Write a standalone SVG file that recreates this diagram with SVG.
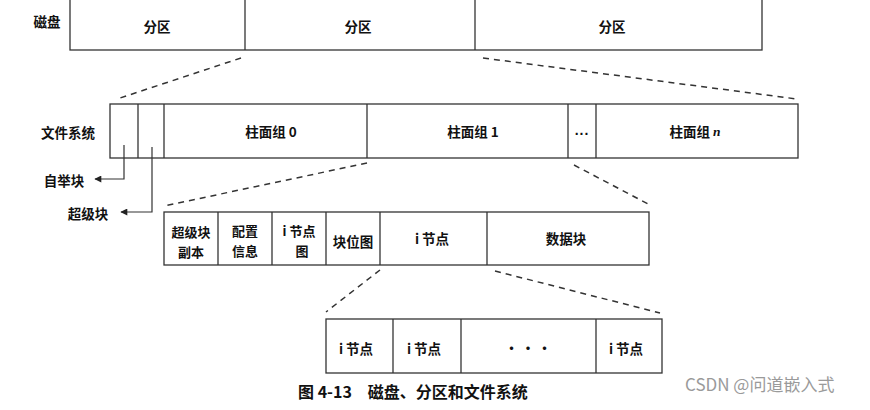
<svg xmlns="http://www.w3.org/2000/svg" width="870" height="410" viewBox="0 0 870 410">
<style>
.box{fill:#fff;stroke:#333;stroke-width:1.3}
.div{stroke:#333;stroke-width:1.3}
.dash{stroke:#333;stroke-width:1.5;stroke-dasharray:6 5;fill:none}
.ln{stroke:#333;stroke-width:1.2;fill:none}
.t{font-family:"Noto Sans CJK SC","Liberation Serif",sans-serif;font-size:13.5px;font-weight:bold;fill:#111;text-anchor:middle;dominant-baseline:central}
.s{font-size:13px}
.dots{font-family:"Liberation Sans",sans-serif;font-size:14px;font-weight:bold;fill:#111;text-anchor:middle}
.cap{font-family:"Noto Sans CJK SC","Liberation Serif",sans-serif;font-size:16px;font-weight:bold;fill:#111}
.wm{font-family:"Noto Sans CJK SC","Liberation Sans",sans-serif;font-size:17px;fill:#9a9a9a}
</style>
<defs>
<marker id="ah" viewBox="0 0 10 10" refX="9" refY="5" markerWidth="9" markerHeight="7" markerUnits="userSpaceOnUse" orient="auto">
<path d="M0,0 L10,5 L0,10 z" fill="#222"/>
</marker>
</defs>
<rect width="870" height="410" fill="#fff"/>

<g id="disk">
<rect class="box" x="70" y="-2" width="692" height="52"/>
<line class="div" x1="245" y1="-2" x2="245" y2="50"/>
<line class="div" x1="475" y1="-2" x2="475" y2="50"/>
<text class="t" x="47" y="21">磁盘</text>
<text class="t" x="157" y="26">分区</text>
<text class="t" x="358" y="26">分区</text>
<text class="t" x="612" y="26">分区</text>
</g>

<g id="filesystem">
<rect class="box" x="110" y="104" width="688" height="54"/>
<line class="div" x1="138" y1="104" x2="138" y2="158"/>
<line class="div" x1="164" y1="104" x2="164" y2="158"/>
<line class="div" x1="367" y1="104" x2="367" y2="158"/>
<line class="div" x1="568" y1="104" x2="568" y2="158"/>
<line class="div" x1="596" y1="104" x2="596" y2="158"/>
<text class="t" x="68" y="132">文件系统</text>
<text class="t" x="271" y="131">柱面组 0</text>
<text class="t" x="473" y="131">柱面组 1</text>
<text class="dots" x="582" y="135" letter-spacing="1">...</text>
<text class="t" x="695" y="131">柱面组 <tspan font-style="italic" font-family="Liberation Serif">n</tspan></text>
</g>

<g id="bootblock">
<text class="t" x="64" y="180">自举块</text>
</g>
<g id="superblock">
<text class="t" x="88" y="213">超级块</text>
</g>

<g id="cylgroup">
<rect class="box" x="164" y="212" width="485" height="53"/>
<line class="div" x1="218" y1="212" x2="218" y2="265"/>
<line class="div" x1="272" y1="212" x2="272" y2="265"/>
<line class="div" x1="326" y1="212" x2="326" y2="265"/>
<line class="div" x1="380" y1="212" x2="380" y2="265"/>
<line class="div" x1="487" y1="212" x2="487" y2="265"/>
<text class="t s" x="191" y="231">超级块</text>
<text class="t s" x="191" y="251">副本</text>
<text class="t s" x="245" y="230">配置</text>
<text class="t s" x="245" y="250">信息</text>
<text class="t s" x="299" y="230">i 节点</text>
<text class="t s" x="302" y="250">图</text>
<text class="t" x="353" y="241">块位图</text>
<text class="t" x="432" y="238">i 节点</text>
<text class="t" x="566" y="238">数据块</text>
</g>

<g id="inodes">
<rect class="box" x="326" y="319" width="336" height="54"/>
<line class="div" x1="393" y1="319" x2="393" y2="373"/>
<line class="div" x1="461" y1="319" x2="461" y2="373"/>
<line class="div" x1="596" y1="319" x2="596" y2="373"/>
<text class="t" x="356" y="348">i 节点</text>
<text class="t" x="424" y="348">i 节点</text>
<text class="t" x="528" y="347">· · ·</text>
<text class="t" x="626" y="348">i 节点</text>
</g>

<g id="connectors">
<line class="dash" x1="241" y1="58" x2="117" y2="99"/>
<line class="dash" x1="483" y1="58" x2="797" y2="99"/>
<polyline class="ln" points="124,145 124,179 95,179" marker-end="url(#ah)"/>
<polyline class="ln" points="152,147 152,212 121,212" marker-end="url(#ah)"/>
<line class="dash" x1="367" y1="163" x2="164" y2="206"/>
<line class="dash" x1="574" y1="165" x2="650" y2="205"/>
<line class="dash" x1="380" y1="270" x2="326" y2="312"/>
<line class="dash" x1="495" y1="271" x2="660" y2="313"/>
</g>

<text class="cap" x="298" y="398">图 4-13　磁盘、分区和文件系统</text>
<text class="wm" x="685" y="391">CSDN @问道嵌入式</text>
</svg>
